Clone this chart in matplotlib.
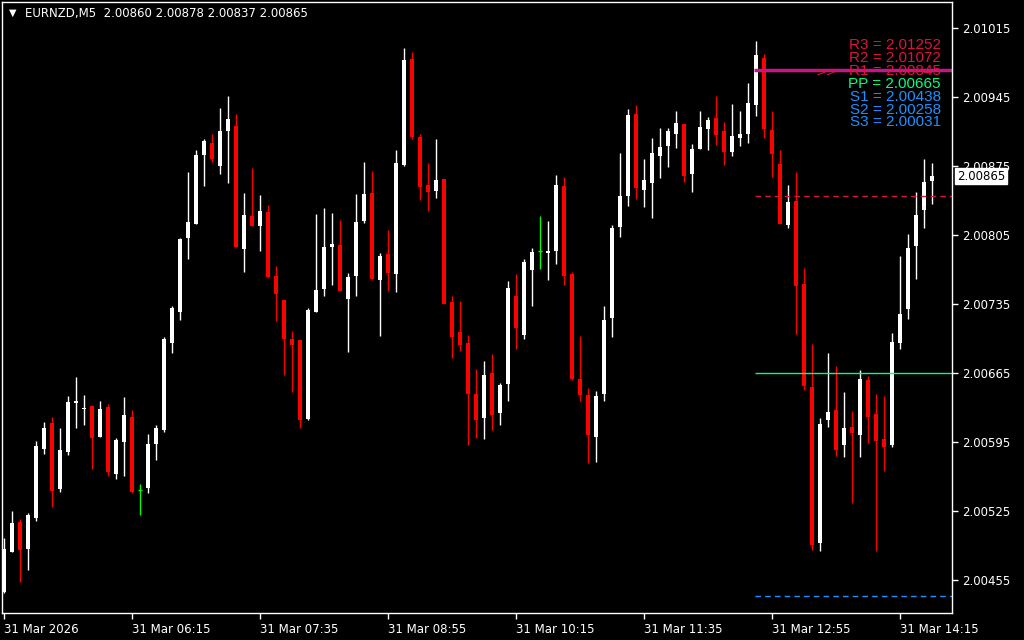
import matplotlib.pyplot as plt
import numpy as np

# header
symbol = "EURNZD,M5"
last_ohlc = ["2.00860", "2.00878", "2.00837", "2.00865"]

# 5-minute candles
opens = [2.00442, 2.00483, 2.00514, 2.00486, 2.00518, 2.00588, 2.00614, 2.00547, 2.00585, 2.00634,
         2.00628, 2.00631, 2.00600, 2.00630, 2.00562, 2.00595, 2.00620, 2.00546, 2.00548, 2.00593,
         2.00607, 2.00695, 2.00727, 2.00802, 2.00816, 2.00886, 2.00899, 2.00875, 2.00911, 2.00916,
         2.00791, 2.00824, 2.00814, 2.00829, 2.00764, 2.00739, 2.00699, 2.00698, 2.00618, 2.00727,
         2.00750, 2.00793, 2.00795, 2.00740, 2.00763, 2.00819, 2.00848, 2.00759, 2.00786, 2.00766,
         2.00876, 2.00984, 2.00905, 2.00856, 2.00850, 2.00862, 2.00737, 2.00707, 2.00695, 2.00644,
         2.00619, 2.00665, 2.00624, 2.00654, 2.00743, 2.00704, 2.00770, 2.00789, 2.00787, 2.00789,
         2.00855, 2.00766, 2.00659, 2.00643, 2.00600, 2.00644, 2.00721, 2.00813, 2.00845, 2.00928,
         2.00851, 2.00858, 2.00885, 2.00896, 2.00908, 2.00918, 2.00867, 2.00893, 2.00913, 2.00924,
         2.00911, 2.00889, 2.00904, 2.00908, 2.00937, 2.00985, 2.00912, 2.00877, 2.00815, 2.00840,
         2.00755, 2.00651, 2.00492, 2.00617, 2.00627, 2.00592, 2.00610, 2.00602, 2.00658, 2.00623,
         2.00598, 2.00592, 2.00695, 2.00730, 2.00794, 2.00831, 2.00860]
highs = [2.00497, 2.00525, 2.00517, 2.00523, 2.00596, 2.00615, 2.00620, 2.00609, 2.00642, 2.00661,
         2.00643, 2.00632, 2.00636, 2.00633, 2.00599, 2.00641, 2.00627, 2.00552, 2.00603, 2.00612,
         2.00702, 2.00733, 2.00802, 2.00869, 2.00892, 2.00903, 2.00908, 2.00934, 2.00946, 2.00928,
         2.00848, 2.00873, 2.00846, 2.00836, 2.00774, 2.00740, 2.00708, 2.00699, 2.00731, 2.00826,
         2.00833, 2.00828, 2.00820, 2.00767, 2.00847, 2.00879, 2.00870, 2.00787, 2.00810, 2.00892,
         2.00995, 2.00991, 2.00908, 2.00878, 2.00903, 2.00862, 2.00743, 2.00738, 2.00704, 2.00669,
         2.00677, 2.00684, 2.00655, 2.00758, 2.00766, 2.00781, 2.00792, 2.00824, 2.00819, 2.00866,
         2.00864, 2.00768, 2.00703, 2.00650, 2.00647, 2.00733, 2.00815, 2.00888, 2.00933, 2.00937,
         2.00882, 2.00904, 2.00914, 2.00914, 2.00931, 2.00919, 2.00898, 2.00931, 2.00925, 2.00946,
         2.00920, 2.00938, 2.00931, 2.00960, 2.01002, 2.00989, 2.00931, 2.00892, 2.00856, 2.00869,
         2.00772, 2.00694, 2.00619, 2.00685, 2.00672, 2.00646, 2.00626, 2.00668, 2.00662, 2.00644,
         2.00642, 2.00706, 2.00784, 2.00806, 2.00849, 2.00882, 2.00878]
lows = [2.00441, 2.00483, 2.00453, 2.00465, 2.00515, 2.00583, 2.00529, 2.00544, 2.00582, 2.00609,
        2.00612, 2.00567, 2.00600, 2.00560, 2.00557, 2.00560, 2.00543, 2.00521, 2.00543, 2.00577,
        2.00605, 2.00685, 2.00719, 2.00781, 2.00816, 2.00855, 2.00879, 2.00867, 2.00858, 2.00793,
        2.00768, 2.00814, 2.00789, 2.00761, 2.00718, 2.00663, 2.00646, 2.00609, 2.00617, 2.00727,
        2.00743, 2.00754, 2.00748, 2.00686, 2.00743, 2.00817, 2.00759, 2.00703, 2.00748, 2.00747,
        2.00875, 2.00903, 2.00841, 2.00830, 2.00843, 2.00735, 2.00680, 2.00687, 2.00592, 2.00599,
        2.00598, 2.00607, 2.00612, 2.00636, 2.00689, 2.00699, 2.00733, 2.00771, 2.00759, 2.00776,
        2.00754, 2.00658, 2.00636, 2.00573, 2.00575, 2.00636, 2.00702, 2.00803, 2.00835, 2.00842,
        2.00834, 2.00822, 2.00863, 2.00874, 2.00894, 2.00859, 2.00849, 2.00893, 2.00892, 2.00897,
        2.00876, 2.00885, 2.00896, 2.00899, 2.00926, 2.00904, 2.00864, 2.00816, 2.00812, 2.00705,
        2.00648, 2.00485, 2.00484, 2.00610, 2.00581, 2.00580, 2.00533, 2.00580, 2.00594, 2.00484,
        2.00565, 2.00590, 2.00689, 2.00720, 2.00760, 2.00812, 2.00837]
closes = [2.00486, 2.00513, 2.00485, 2.00521, 2.00591, 2.00609, 2.00545, 2.00587, 2.00635, 2.00636,
          2.00629, 2.00599, 2.00628, 2.00564, 2.00597, 2.00622, 2.00544, 2.00546, 2.00593, 2.00609,
          2.00700, 2.00731, 2.00801, 2.00818, 2.00886, 2.00901, 2.00882, 2.00911, 2.00923, 2.00793,
          2.00825, 2.00814, 2.00830, 2.00762, 2.00745, 2.00700, 2.00693, 2.00617, 2.00729, 2.00749,
          2.00793, 2.00796, 2.00748, 2.00762, 2.00818, 2.00847, 2.00760, 2.00784, 2.00767, 2.00878,
          2.00983, 2.00905, 2.00854, 2.00849, 2.00861, 2.00735, 2.00702, 2.00693, 2.00644, 2.00617,
          2.00663, 2.00622, 2.00653, 2.00751, 2.00711, 2.00778, 2.00788, 2.00789, 2.00789, 2.00856,
          2.00763, 2.00659, 2.00643, 2.00602, 2.00642, 2.00719, 2.00812, 2.00845, 2.00927, 2.00853,
          2.00861, 2.00888, 2.00895, 2.00911, 2.00919, 2.00865, 2.00893, 2.00915, 2.00922, 2.00907,
          2.00890, 2.00906, 2.00908, 2.00939, 2.00988, 2.00913, 2.00887, 2.00816, 2.00839, 2.00753,
          2.00652, 2.00490, 2.00613, 2.00625, 2.00587, 2.00609, 2.00604, 2.00659, 2.00620, 2.00596,
          2.00590, 2.00696, 2.00725, 2.00792, 2.00825, 2.00859, 2.00865]

time_labels = ["31 Mar 2026", "31 Mar 06:15", "31 Mar 07:35", "31 Mar 08:55",
               "31 Mar 10:15", "31 Mar 11:35", "31 Mar 12:55", "31 Mar 14:15"]
label_step = 16
price_ticks = [2.00455, 2.00525, 2.00595, 2.00665, 2.00735, 2.00805, 2.00875, 2.00945, 2.01015]

# daily pivots
pivot_names = ["R3", "R2", "R1", "PP", "S1", "S2", "S3"]
pivot_values = [2.01252, 2.01072, 2.00845, 2.00665, 2.00438, 2.00258, 2.00031]
pivot_colors = ["#DC143C", "#DC143C", "#DC143C", "#00FF7F", "#1E90FF", "#1E90FF", "#1E90FF"]
pivot_start = 93.9
marker_level = 2.00973

o = np.array(opens)
h = np.array(highs)
l = np.array(lows)
c = np.array(closes)
x = np.arange(len(o))

fig = plt.figure(figsize=(10.24, 6.4), dpi=100, facecolor="black")
ax = fig.add_axes([2 / 1024, 27 / 640, 950 / 1024, 611 / 640])
ax.set_facecolor("black")
for s in ax.spines.values():
    s.set_color("white")
    s.set_linewidth(1)

up = c > o
dn = c < o
flat = c == o

ax.vlines(x[up], l[up], h[up], color="white", lw=1)
ax.bar(x[up], c[up] - o[up], bottom=o[up], width=0.6, color="white", lw=0)
ax.vlines(x[dn], l[dn], h[dn], color="#FF0000", lw=1)
ax.bar(x[dn], o[dn] - c[dn], bottom=c[dn], width=0.6, color="#FF0000", lw=0)
ax.vlines(x[flat], l[flat], h[flat], color="#00FF00", lw=1)
ax.hlines(o[flat], x[flat] - 0.3, x[flat] + 0.3, color="#00FF00", lw=1)

xmax = 118.5
# pivot lines
for name, val, col in zip(pivot_names, pivot_values, pivot_colors):
    ls = "-" if name == "PP" else (0, (4, 3))
    ax.hlines(val, pivot_start, xmax, color=col, lw=1, linestyles=ls)
ax.hlines(marker_level, pivot_start - 0.1, xmax, color="#C71585", lw=2.5)

ax.set_xlim(-0.25, xmax)
ax.set_ylim(2.004211, 2.010419)

ax.yaxis.tick_right()
ax.set_yticks(price_ticks)
ax.set_yticklabels([f"{p:.5f}" for p in price_ticks])
ax.set_xticks(np.arange(0, len(o), label_step))
ax.set_xticklabels(time_labels, ha="left")
ax.tick_params(colors="white", labelsize=8.5, length=4, width=1, direction="out")
ax.tick_params(axis="y", pad=3)
ax.tick_params(axis="x", pad=3)

# pivot labels
for k, (name, val, col) in enumerate(zip(pivot_names, pivot_values, pivot_colors)):
    fig.text(941 / 1024, 1 - (45 + 12.9 * k) / 640, f"{name} = {val:.5f}", color=col,
             ha="right", va="center", fontsize=11, family="Liberation Sans")
fig.text(826 / 1024, 1 - 72 / 640, ">>", color="#DC143C", ha="center", va="center", fontsize=9)

# header
fig.text(9 / 1024, 1 - 13 / 640, "\u25bc", color="white", fontsize=7, va="center")
fig.text(25 / 1024, 1 - 13 / 640, symbol + "  " + " ".join(last_ohlc), color="white",
         fontsize=8.5, va="center")

# current price box
ax.text(1.005, c[-1], f"{c[-1]:.5f}", transform=ax.get_yaxis_transform(), color="black",
        fontsize=8.5, va="center", ha="left", clip_on=False, zorder=10,
        bbox=dict(boxstyle="square,pad=0.15", facecolor="white", edgecolor="white"))

fig.savefig("out.png", dpi=100, facecolor="black")
